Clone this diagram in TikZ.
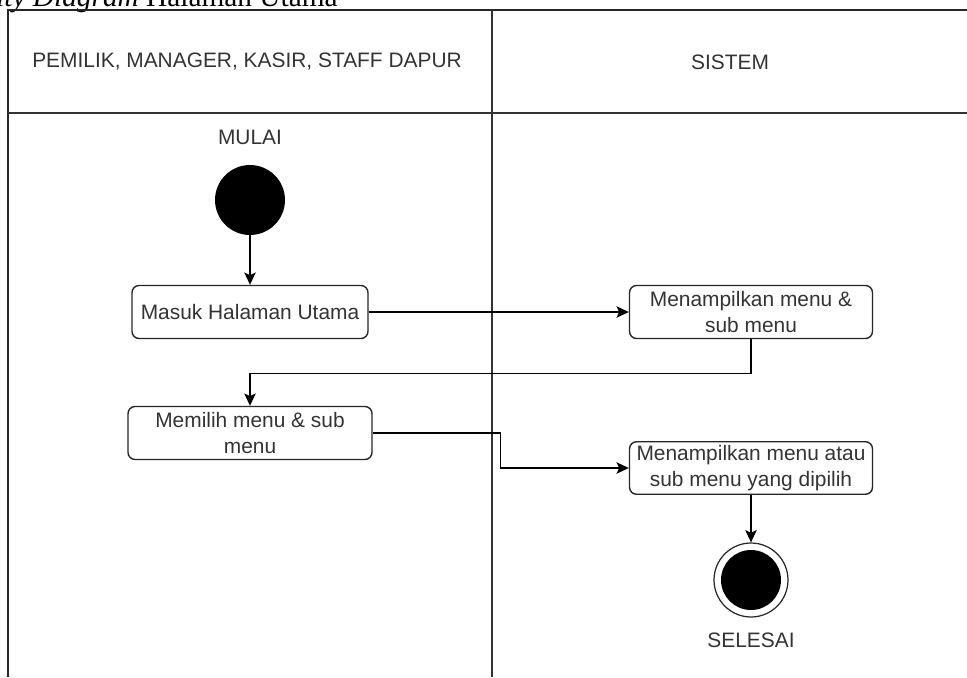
\documentclass[tikz,border=0pt]{standalone}
\usepackage{fontspec}
\setmainfont{Liberation Sans}
\newfontfamily\captionfont{Liberation Serif}
\usetikzlibrary{arrows.meta,positioning,calc}

\begin{document}
\begin{tikzpicture}[x=0.02cm,y=-0.02cm,
    every node/.style={font=\fontsize{11.9}{14.8}\selectfont, text=black!80, align=center},
    frame/.style={draw=black!85, line width=1.1pt},
    lane/.style={draw=black!80, line width=0.8pt},
    action/.style={draw=black!85, line width=0.8pt, rounded corners=4pt, minimum height=1.06cm, inner sep=2pt},
    initial/.style={circle, fill=black, minimum size=1.4cm, inner sep=0pt},
    finalout/.style={circle, draw=black!85, line width=0.7pt, minimum size=1.48cm, inner sep=0pt},
    finalin/.style={circle, fill=black, minimum size=1.2cm, inner sep=0pt},
    flow/.style={draw=black, line width=0.8pt, -{Stealth[length=7pt, width=6.5pt, inset=1.5pt]}}]

    \useasboundingbox (0,0) rectangle (967,677);

    \node[anchor=base east, inner sep=0pt, font=\captionfont\fontsize{16.7}{18}\selectfont, text=black] (caption) at (338,6) {\textit{Activity Diagram} Halaman Utama};

    \draw[frame] (967,10) -- (8,10) -- (8,677);
    \draw[lane] (8,113) -- (967,113);
    \draw[lane] (492,10) -- (492,677);

    \node (actor) at (247,62) {PEMILIK, MANAGER, KASIR, STAFF DAPUR};
    \node (system) at (730,62) {SISTEM};

    \node (mulai) at (250,137) {MULAI};
    \node[initial] (start) at (250,200) {};

    \node[action, minimum width=4.72cm] (masuk) at (250,312) {Masuk Halaman Utama};
    \node[action, minimum width=4.86cm] (tampil) at (751,312) {Menampilkan menu \&\\sub menu};
    \node[action, minimum width=4.88cm] (pilih) at (250,433) {Memilih menu \& sub\\menu};
    \node[action, minimum width=4.86cm, minimum height=1.02cm] (tampilpilih) at (751,468) {Menampilkan menu atau\\sub menu yang dipilih};

    \node[finalout] (end) at (751,580) {};
    \node[finalin] (endin) at (end) {};
    \node (selesai) at (751,640) {SELESAI};

    \draw[flow] (start) -- (masuk);
    \draw[flow] (masuk) -- (tampil);
    \draw[flow] (tampil.south) -- ++(0,34) -| (pilih.north);
    \draw[flow] (pilih.east) -- ++(128,0) |- (tampilpilih.west);
    \draw[flow] (tampilpilih) -- (end);
\end{tikzpicture}
\end{document}
